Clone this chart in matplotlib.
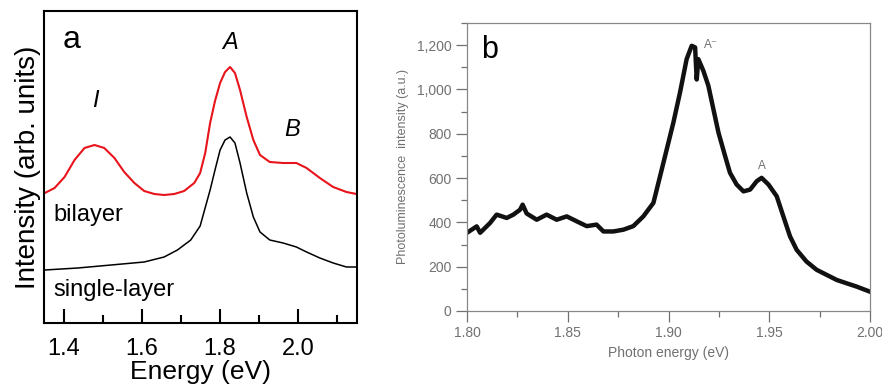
import numpy as np
import matplotlib
matplotlib.use('Agg')
import matplotlib.pyplot as plt
from matplotlib.ticker import FuncFormatter, MultipleLocator

plt.rcParams['font.family'] = ['Liberation Sans', 'DejaVu Sans']

# panel a: spectra (arb. units)
energy_bi = [1.352, 1.377, 1.4025, 1.428, 1.4535, 1.479, 1.504, 1.530, 1.555, 1.581,
             1.606, 1.632, 1.657, 1.683, 1.708, 1.734, 1.749, 1.762, 1.7745, 1.787,
             1.80, 1.8127, 1.8255, 1.838, 1.851, 1.868, 1.885, 1.902, 1.927, 1.961,
             1.995, 2.021, 2.055, 2.089, 2.123, 2.149]
bilayer = [130, 135, 146, 163, 175, 178, 175, 165, 151, 140,
           132, 129, 128, 129, 132, 140, 150, 170, 200, 222,
           240, 251, 256, 250, 233, 206, 183, 168, 161, 160,
           160, 155, 145, 136, 131, 129]

energy_single = [1.352, 1.4365, 1.5215, 1.606, 1.657, 1.691, 1.725, 1.749, 1.7745,
                 1.787, 1.80, 1.8127, 1.8255, 1.838, 1.851, 1.868, 1.885, 1.902,
                 1.927, 1.961, 1.995, 2.021, 2.055, 2.089, 2.123, 2.149]
single_layer = [53, 55, 58, 61, 66, 73, 83, 97, 133,
                153, 173, 183, 186, 180, 160, 130, 106, 91,
                83, 80, 76, 71, 65, 60, 56, 56]

# panel b: PL spectrum
photon_energy = [1.8000, 1.8048, 1.8065, 1.8114, 1.8147, 1.8197, 1.8230, 1.8263, 1.8276,
                 1.8296, 1.8346, 1.8395, 1.8445, 1.8495, 1.8544, 1.8594, 1.8643, 1.8677,
                 1.8726, 1.8776, 1.8825, 1.8875, 1.8925, 1.8958, 1.8991, 1.9024, 1.9057,
                 1.9090, 1.9115, 1.9132, 1.9140, 1.9148, 1.9173, 1.9198, 1.9223, 1.9248,
                 1.9281, 1.9305, 1.9338, 1.9372, 1.9405, 1.9438, 1.9462, 1.9496, 1.9537,
                 1.9570, 1.9603, 1.9636, 1.9685, 1.9735, 1.9785, 1.9835, 1.9884, 1.9934,
                 2.0000]
pl_intensity = [353, 382, 353, 397, 435, 420, 435, 457, 480,
                440, 412, 435, 412, 427, 405, 383, 390, 359,
                359, 367, 383, 427, 488, 608, 729, 850, 986,
                1137, 1197, 1190, 1045, 1137, 1084, 1016, 910, 805,
                699, 624, 571, 540, 548, 586, 601, 571, 518,
                427, 337, 276, 223, 186, 163, 140, 125, 110,
                87]

fig = plt.figure(figsize=(8.82, 3.9), dpi=100)

# ---- panel a
ax1 = fig.add_axes([0.0499, 0.1718, 0.3549, 0.80])
ax1.plot(energy_bi, bilayer, color='#e8141c', lw=1.5)
ax1.plot(energy_single, single_layer, color='black', lw=1.1)
ax1.set_xlim(1.35, 2.15)
ax1.set_ylim(0, 312)
ax1.set_yticks([])
ax1.xaxis.set_minor_locator(MultipleLocator(0.1))
ax1.set_xticks([1.4, 1.6, 1.8, 2.0])
ax1.set_xticklabels(['1.4', '1.6', '1.8', '2.0'])
ax1.tick_params(axis='x', which='major', direction='in', length=10, width=1.5,
                labelsize=17, pad=11)
ax1.tick_params(axis='x', which='minor', direction='in', length=6, width=1.5)
for s in ax1.spines.values():
    s.set_linewidth(1.5)
ax1.set_xlabel('Energy (eV)', fontsize=19, labelpad=0)
ax1.set_ylabel('Intensity (arb. units)', fontsize=20, labelpad=2)
ax1.text(0.06, 0.955, 'a', transform=ax1.transAxes, fontsize=23, va='top', ha='left')
ax1.text(1.825, 280, 'A', fontsize=17, style='italic', ha='center', va='center')
ax1.text(1.48, 222, 'I', fontsize=17, style='italic', ha='center', va='center')
ax1.text(1.985, 193, 'B', fontsize=17, style='italic', ha='center', va='center')
ax1.text(1.373, 108, 'bilayer', fontsize=17, ha='left', va='center')
ax1.text(1.373, 33, 'single-layer', fontsize=17, ha='left', va='center')

# ---- panel b
gray = '#707070'
ax2 = fig.add_axes([0.5295, 0.2026, 0.4569, 0.7384])
ax2.plot(photon_energy, pl_intensity, color='#111111', lw=3.2)
ax2.set_xlim(1.80, 2.00)
ax2.set_ylim(0, 1300)
ax2.xaxis.set_major_locator(MultipleLocator(0.05))
ax2.xaxis.set_minor_locator(MultipleLocator(0.025))
ax2.yaxis.set_major_locator(MultipleLocator(200))
ax2.yaxis.set_minor_locator(MultipleLocator(100))
ax2.xaxis.set_major_formatter(FuncFormatter(lambda v, p: f'{v:.2f}'))
ax2.yaxis.set_major_formatter(FuncFormatter(lambda v, p: f'{int(v):,}'))
ax2.tick_params(which='major', direction='out', length=8, width=0.9, color=gray,
                labelcolor=gray, labelsize=10, pad=3)
ax2.tick_params(which='minor', direction='out', length=4, width=0.9, color=gray)
for s in ax2.spines.values():
    s.set_linewidth(0.9)
    s.set_color('#888888')
ax2.set_xlabel('Photon energy (eV)', fontsize=10, color=gray, labelpad=4)
ax2.set_ylabel('Photoluminescence  intensity (a.u.)', fontsize=9, color=gray, labelpad=6)
ax2.text(0.035, 0.96, 'b', transform=ax2.transAxes, fontsize=22, va='top', ha='left')
ax2.text(1.9175, 1200, 'A\u207b', fontsize=8.5, color=gray, ha='left', va='center')
ax2.text(1.9465, 655, 'A', fontsize=8.5, color=gray, ha='center', va='center')

fig.savefig('out.png', dpi=100)
